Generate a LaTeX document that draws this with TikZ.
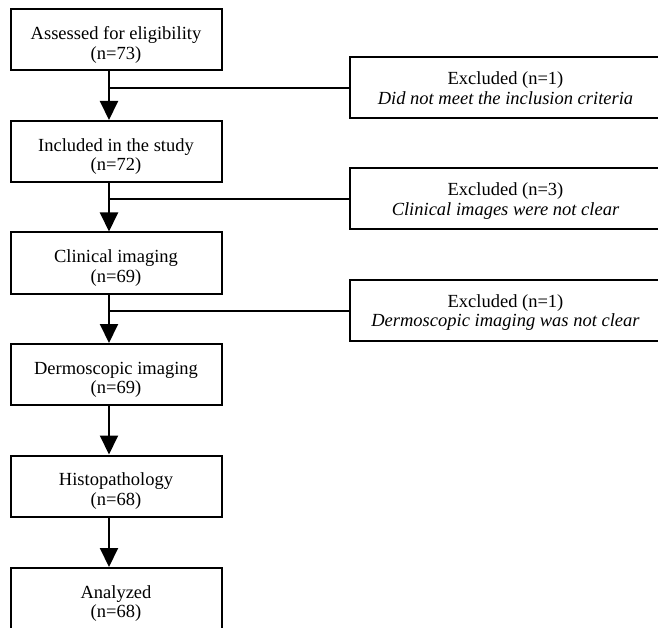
\documentclass[tikz,border=0pt]{standalone}
\usepackage{fontspec}
\setmainfont{Liberation Serif}
\usetikzlibrary{arrows.meta}
\renewcommand{\arraystretch}{0.886}
\newcommand{\twoline}[3][24.5pt]{\begin{tabular}{@{}c@{}}\rule{0pt}{#1}#2\\#3\end{tabular}}
\begin{document}
\begin{tikzpicture}[x=1pt,y=-1pt,
  box/.style={draw, line width=2pt, minimum width=211pt, minimum height=61pt,
    inner sep=0pt, font=\fontsize{18.5}{22}\selectfont},
  exbox/.style={box, minimum width=311pt},
  arr/.style={line width=2pt, -{Triangle[length=19pt,width=18pt]}},
  conn/.style={line width=2pt}]
\useasboundingbox (0,0) rectangle (658,628);
\clip (0,0) rectangle (658,628);
\coordinate (ax) at (109,0);
\node[box] (b1) at (116,40) {\twoline{Assessed for eligibility}{(n=73)}};
\node[box] (b2) at (116,151.5) {\twoline{Included in the study}{(n=72)}};
\node[box] (b3) at (116,263) {\twoline{Clinical imaging}{(n=69)}};
\node[box] (b4) at (116,374.5) {\twoline{Dermoscopic imaging}{(n=69)}};
\node[box] (b5) at (116,486) {\twoline{Histopathology}{(n=68)}};
\node[box] (b6) at (116,598.5) {\twoline{Analyzed}{(n=68)}};
\node[exbox] (e1) at (505.5,88) {\twoline[19pt]{Excluded (n=1)}{\textit{Did not meet the inclusion criteria}}};
\node[exbox] (e2) at (505.5,199) {\twoline[19pt]{Excluded (n=3)}{\textit{Clinical images were not clear}}};
\node[exbox] (e3) at (505.5,310.5) {\twoline[19pt]{Excluded (n=1)}{\textit{Dermoscopic imaging was not clear}}};
\draw[arr] (b1.south -| ax) -- (b2.north -| ax);
\draw[arr] (b2.south -| ax) -- (b3.north -| ax);
\draw[arr] (b3.south -| ax) -- (b4.north -| ax);
\draw[arr] (b4.south -| ax) -- (b5.north -| ax);
\draw[arr] (b5.south -| ax) -- (b6.north -| ax);
\draw[conn] (e1.west -| ax) -- (e1.west);
\draw[conn] (e2.west -| ax) -- (e2.west);
\draw[conn] (e3.west -| ax) -- (e3.west);
\end{tikzpicture}
\end{document}
